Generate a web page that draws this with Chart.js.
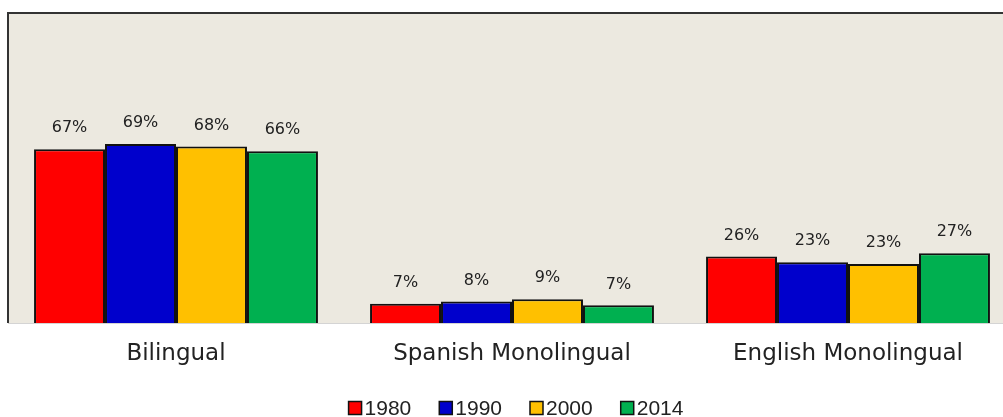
<!DOCTYPE html>
<html>
<head>
<meta charset="utf-8">
<script src="https://cdn.jsdelivr.net/npm/chart.js@4.4.0/dist/chart.umd.min.js"></script>
<style>
  html, body { margin: 0; padding: 0; background: #fff; overflow: hidden; }
  #wrap { width: 1024px; height: 417px; }
</style>
</head>
<body>
<div id="wrap"><canvas id="chart" width="1024" height="417"></canvas></div>
<script>
// --- Data ---
const categories = ['Bilingual', 'Spanish Monolingual', 'English Monolingual'];
const years = ['1980', '1990', '2000', '2014'];
const s1980 = [67, 7.4, 25.6];
const s1990 = [69, 8.3, 23.4];
const s2000 = [68, 9.2, 22.7];
const s2014 = [66.2, 6.8, 26.9];
const seriesValues = [s1980, s1990, s2000, s2014];

// --- Styles ---
const barColors = ['#FF0000', '#0000CC', '#FFC000', '#00B050'];
const plotBg = '#ECE9E0';
const textColor = '#222';

// plot frame: background, left/top border, faint base line
const framePlugin = {
    id: 'frame',
    beforeDatasetsDraw(chart) {
        const { ctx, chartArea: a } = chart;
        ctx.save();
        ctx.fillStyle = plotBg;
        ctx.fillRect(a.left, a.top, a.right - a.left, a.bottom - a.top);
        ctx.strokeStyle = '#d4d4d4';
        ctx.lineWidth = 1;
        ctx.beginPath();
        ctx.moveTo(a.left, a.bottom + 0.5);
        ctx.lineTo(a.right, a.bottom + 0.5);
        ctx.stroke();
        ctx.strokeStyle = '#333';
        ctx.lineWidth = 2;
        ctx.beginPath();
        ctx.moveTo(a.left, a.bottom);
        ctx.lineTo(a.left, a.top);
        ctx.lineTo(a.right, a.top);
        ctx.stroke();
        ctx.restore();
    }
};

// percent labels above the bars
const valueLabels = {
    id: 'valueLabels',
    afterDatasetsDraw(chart) {
        const { ctx } = chart;
        ctx.save();
        ctx.font = '16px "DejaVu Sans"';
        ctx.fillStyle = textColor;
        ctx.textAlign = 'center';
        ctx.textBaseline = 'middle';
        chart.data.datasets.forEach((ds, i) => {
            chart.getDatasetMeta(i).data.forEach((bar, j) => {
                ctx.fillText(Math.round(ds.data[j]) + '%', bar.x, bar.y - 21);
            });
        });
        ctx.restore();
    }
};

// legend with tight box-to-text gap
const bottomLegend = {
    id: 'bottomLegend',
    afterDraw(chart) {
        const { ctx } = chart;
        const box = 13, gap = 3, spacing = 28;
        ctx.save();
        ctx.font = '21px "Liberation Sans"';
        const items = chart.data.datasets.map(ds => ({
            label: ds.label, color: ds.backgroundColor,
            w: box + gap + ctx.measureText(ds.label).width
        }));
        const total = items.reduce((s, it) => s + it.w, 0) + spacing * (items.length - 1);
        let x = chart.width / 2 + 4 - total / 2;
        const y = 408;
        items.forEach(it => {
            ctx.fillStyle = it.color;
            ctx.fillRect(x, y - box / 2, box, box);
            ctx.strokeStyle = '#111';
            ctx.lineWidth = 1.5;
            ctx.strokeRect(x, y - box / 2, box, box);
            ctx.fillStyle = textColor;
            ctx.textAlign = 'left';
            ctx.textBaseline = 'middle';
            ctx.fillText(it.label, x + box + gap, y + 1);
            x += it.w + spacing;
        });
        ctx.restore();
    }
};

const chart = new Chart(document.getElementById('chart'), {
    type: 'bar',
    data: {
        labels: categories,
        datasets: years.map((y, i) => ({
            label: y,
            data: seriesValues[i],
            backgroundColor: barColors[i],
            borderColor: '#111',
            borderWidth: 2,
            barPercentage: 1,
            categoryPercentage: 0.845
        }))
    },
    options: {
        responsive: false,
        animation: false,
        layout: { padding: { top: 13, left: 8, right: 8, bottom: 50 } },
        plugins: {
            legend: { display: false },
            tooltip: { enabled: false }
        },
        scales: {
            x: {
                grid: { display: false, drawTicks: false },
                border: { display: false },
                ticks: {
                    color: textColor,
                    font: { family: 'DejaVu Sans', size: 23 },
                    padding: 17,
                    maxRotation: 0
                },
                afterFit(scale) { scale.height = 44; }
            },
            y: {
                display: false,
                min: 0,
                max: 119.5
            }
        }
    },
    plugins: [framePlugin, valueLabels, bottomLegend]
});
</script>
</body>
</html>
